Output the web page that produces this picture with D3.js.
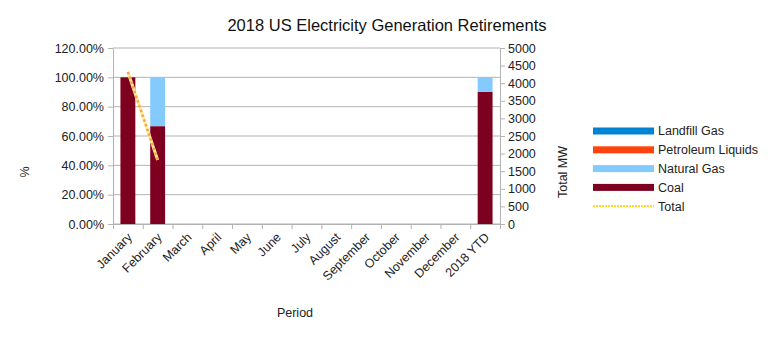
<!DOCTYPE html>
<html>
<head>
<meta charset="utf-8">
<script src="https://cdn.jsdelivr.net/npm/d3@7"></script>
<style>
  body { margin: 0; background: #fff; }
  svg { font-family: "Liberation Sans", Arial, sans-serif; }
</style>
</head>
<body>
<svg width="775" height="340"></svg>
<script>
// retirements by month, share of each fuel
var periods = ["January", "February", "March", "April", "May", "June", "July",
    "August", "September", "October", "November", "December", "2018 YTD"];
var coal        = [1.000, 0.667, 0, 0, 0, 0, 0, 0, 0, 0, 0, 0, 0.901];
var naturalGas  = [0.000, 0.333, 0, 0, 0, 0, 0, 0, 0, 0, 0, 0, 0.099];
var petroleum   = [0, 0, 0, 0, 0, 0, 0, 0, 0, 0, 0, 0, 0];
var landfillGas = [0, 0, 0, 0, 0, 0, 0, 0, 0, 0, 0, 0, 0];
// total MW retired (line, right axis)
var totalMW = [4320, 1820, null, null, null, null, null, null, null, null, null, null, null];

var pctTicks = [0, 0.2, 0.4, 0.6, 0.8, 1.0, 1.2];
var mwTicks = [0, 500, 1000, 1500, 2000, 2500, 3000, 3500, 4000, 4500, 5000];

var series = [
    {key: "coal", name: "Coal", color: "#7e0021", values: coal},
    {key: "gas", name: "Natural Gas", color: "#83caff", values: naturalGas},
    {key: "petro", name: "Petroleum Liquids", color: "#ff420e", values: petroleum},
    {key: "landfill", name: "Landfill Gas", color: "#0084d1", values: landfillGas}
];

var svg = d3.select("svg");
var plot = {left: 113, right: 500, top: 48, bottom: 224};

var rows = periods.map(function(p, i) {
    var r = {period: p};
    series.forEach(function(s) { r[s.key] = s.values[i]; });
    return r;
});

var x = d3.scaleBand().domain(periods).range([plot.left, plot.right])
    .paddingInner(0.5).paddingOuter(0.25);
var xEdge = d3.scaleLinear().domain([0, periods.length]).range([plot.left, plot.right]);
var yPct = d3.scaleLinear().domain([0, 1.2]).range([plot.bottom, plot.top]);
var yMW = d3.scaleLinear().domain([0, 5000]).range([plot.bottom, plot.top]);

// grid
svg.append("g").selectAll("line").data(pctTicks).join("line")
    .attr("x1", plot.left).attr("x2", plot.right)
    .attr("y1", function(d) { return yPct(d); })
    .attr("y2", function(d) { return yPct(d); })
    .attr("stroke", "#b3b3b3").attr("stroke-width", 1);

// stacked bars
var stack = d3.stack().keys(series.map(function(s) { return s.key; }));
var layers = stack(rows);
svg.append("g").selectAll("g").data(layers).join("g")
    .attr("fill", function(d, i) { return series[i].color; })
    .selectAll("rect").data(function(d) { return d; }).join("rect")
    .attr("x", function(d) { return x(d.data.period); })
    .attr("width", x.bandwidth())
    .attr("y", function(d) { return yPct(d[1]); })
    .attr("height", function(d) { return yPct(d[0]) - yPct(d[1]); });

// total line: pale band with dotted core
var totalPts = periods.map(function(p, i) { return {period: p, v: totalMW[i]}; })
    .filter(function(d) { return d.v != null; });
var line = d3.line()
    .x(function(d) { return x(d.period) + x.bandwidth() / 2; })
    .y(function(d) { return yMW(d.v); });
svg.append("path").datum(totalPts)
    .attr("fill", "none").attr("stroke", "#ffeaa6").attr("stroke-width", 3)
    .attr("d", line);
svg.append("path").datum(totalPts)
    .attr("fill", "none").attr("stroke", "#f2a83c").attr("stroke-width", 2.5)
    .attr("stroke-dasharray", "2.5,2.5")
    .attr("d", line);

// axes
var axisColor = "#b3b3b3";
var leftAxis = svg.append("g").attr("transform", "translate(" + plot.left + ",0)")
    .call(d3.axisLeft(yPct).tickValues(pctTicks).tickFormat(d3.format(".2%"))
        .tickSizeInner(5).tickSizeOuter(0).tickPadding(4));
var rightAxis = svg.append("g").attr("transform", "translate(" + plot.right + ",0)")
    .call(d3.axisRight(yMW).tickValues(mwTicks).tickFormat(d3.format("d"))
        .tickSizeInner(5).tickSizeOuter(0).tickPadding(3));
var edgeAxis = svg.append("g").attr("transform", "translate(0," + plot.bottom + ")")
    .call(d3.axisBottom(xEdge).tickValues(d3.range(periods.length + 1))
        .tickFormat("").tickSizeInner(5).tickSizeOuter(0));
var labelAxis = svg.append("g").attr("transform", "translate(0," + plot.bottom + ")")
    .call(d3.axisBottom(x).tickSize(0).tickPadding(0));
labelAxis.select(".domain").remove();
labelAxis.selectAll("text")
    .attr("text-anchor", "end")
    .attr("dy", 0)
    .attr("transform", "translate(5,14) rotate(-45)");

[leftAxis, rightAxis, edgeAxis].forEach(function(g) {
    g.selectAll(".domain, line").attr("stroke", axisColor);
});
[leftAxis, rightAxis, labelAxis].forEach(function(g) {
    g.selectAll("text").attr("fill", "#222").style("font-size", "12.5px")
        .style("font-family", "Liberation Sans, Arial, sans-serif");
});

// titles
svg.append("text").attr("x", 387).attr("y", 31).attr("text-anchor", "middle")
    .style("font-size", "16.5px").attr("fill", "#111")
    .text("2018 US Electricity Generation Retirements");
svg.append("text").attr("x", 295).attr("y", 317).attr("text-anchor", "middle")
    .style("font-size", "12.5px").attr("fill", "#222").text("Period");
svg.append("text").attr("transform", "translate(29,172) rotate(-90)")
    .attr("text-anchor", "middle").style("font-size", "12.5px").attr("fill", "#222")
    .text("%");
svg.append("text").attr("transform", "translate(567,172) rotate(-90)")
    .attr("text-anchor", "middle").style("font-size", "12.5px").attr("fill", "#222")
    .text("Total MW");

// legend
var legendItems = series.slice().reverse().concat([{name: "Total", color: "#ffd320", dashed: true}]);
var legend = svg.append("g").selectAll("g").data(legendItems).join("g")
    .attr("transform", function(d, i) { return "translate(593," + (131 + i * 18.8) + ")"; });
legend.filter(function(d) { return !d.dashed; }).append("rect")
    .attr("x", 0).attr("y", -3.5).attr("width", 61).attr("height", 7)
    .attr("fill", function(d) { return d.color; });
legend.filter(function(d) { return d.dashed; }).append("line")
    .attr("x1", 0).attr("x2", 61).attr("y1", 0).attr("y2", 0)
    .attr("stroke", "#ffd320").attr("stroke-width", 2).attr("stroke-dasharray", "2,1");
legend.append("text").attr("x", 65).attr("y", 0).attr("dy", "0.35em")
    .style("font-size", "12.5px").attr("fill", "#222")
    .text(function(d) { return d.name; });
</script>
</body>
</html>
